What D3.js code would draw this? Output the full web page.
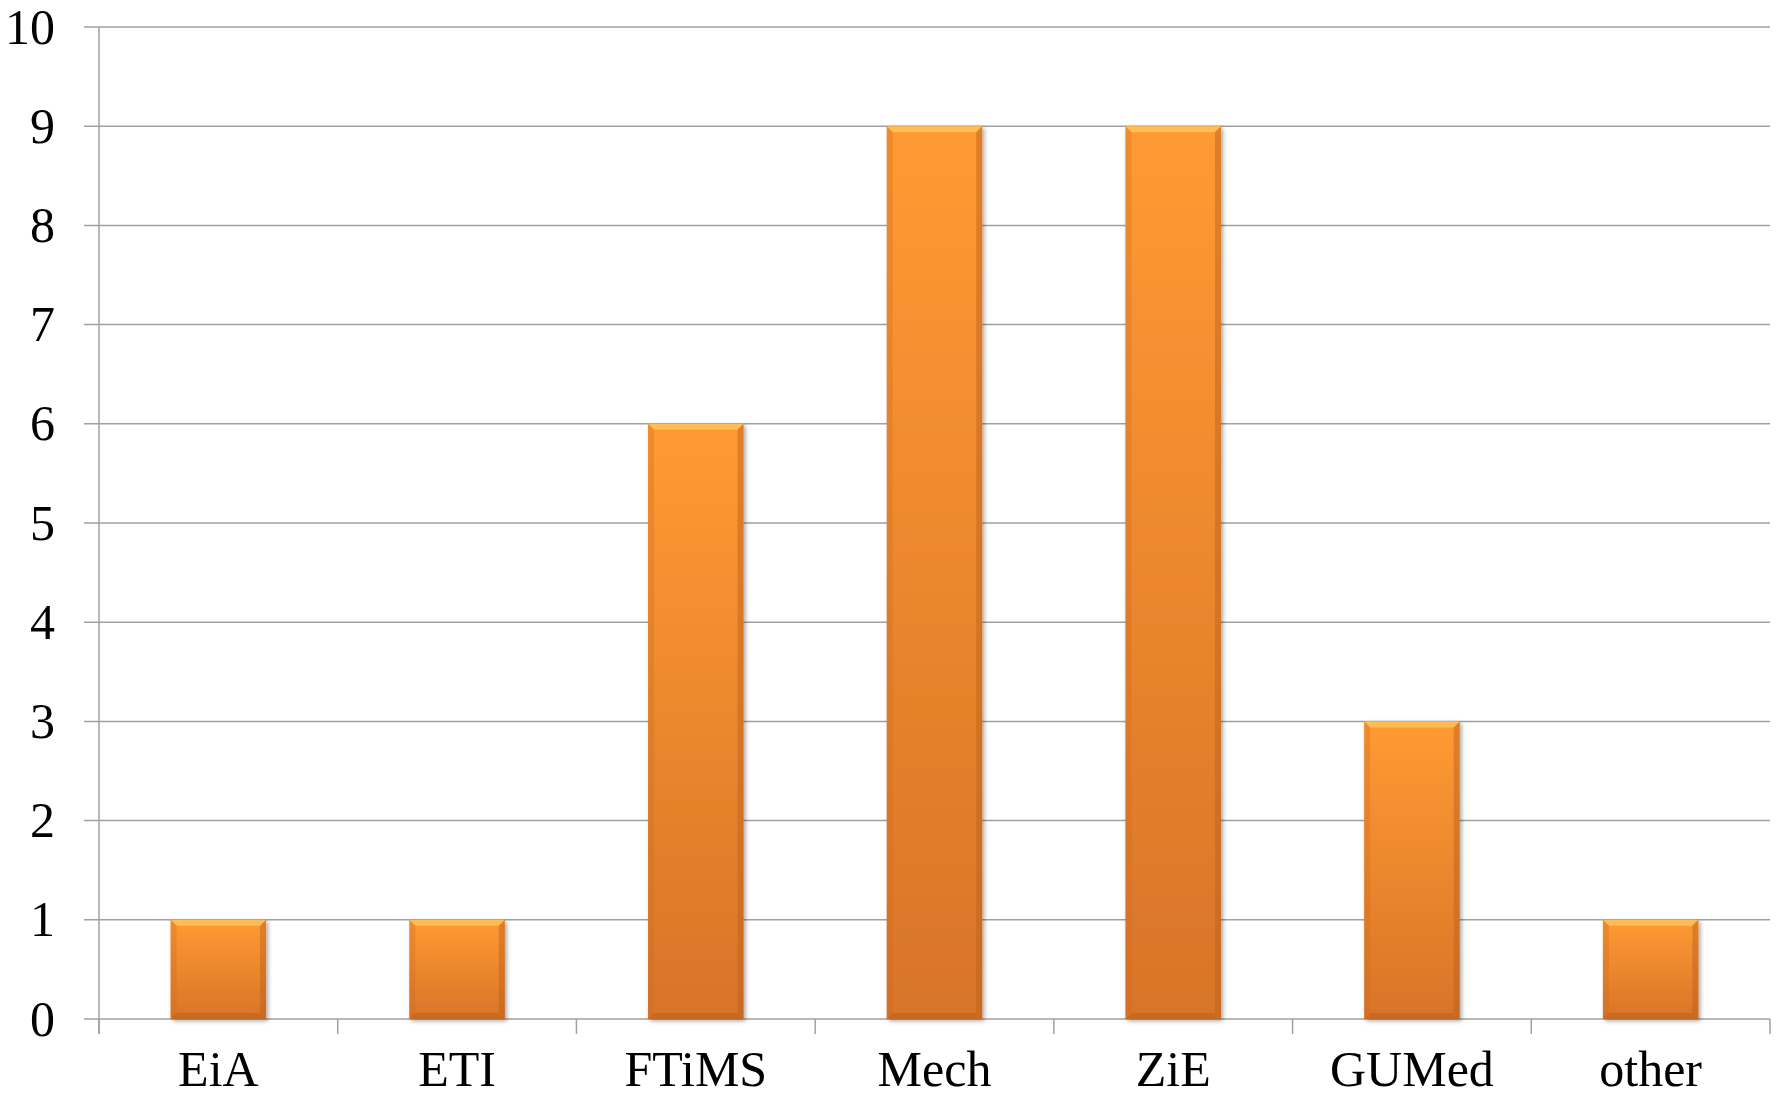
<!DOCTYPE html>
<html>
<head>
<meta charset="utf-8">
<script src="https://cdn.jsdelivr.net/npm/d3@7"></script>
<style>
	body { margin: 0; background: #fff; }
	text { font-family: "Liberation Serif", "Times New Roman", serif; fill: #000; }
</style>
</head>
<body>
<div class="container"></div>
<script>
var	WIDTH = 1779,
	HEIGHT = 1097,
	MARGIN = {top: 27, right: 9, bottom: 78, left: 99},
	TICK = 15,
	xScale,
	yScale;

var categories = ['EiA', 'ETI', 'FTiMS', 'Mech', 'ZiE', 'GUMed', 'other'];
var values = [1, 1, 6, 9, 9, 3, 1];
var yTicks = [0, 1, 2, 3, 4, 5, 6, 7, 8, 9, 10];

function translate(x, y) {
	return 'translate(' + x + ',' + y + ')';
}

var innerW = WIDTH - MARGIN.left - MARGIN.right,
	innerH = HEIGHT - MARGIN.top - MARGIN.bottom;

var svg = d3.select('.container').append('svg')
	.attr('width', WIDTH)
	.attr('height', HEIGHT);

var defs = svg.append('defs');

var grad = defs.append('linearGradient')
	.attr('id', 'barFill')
	.attr('x1', 0).attr('y1', 0).attr('x2', 0).attr('y2', 1);
grad.append('stop').attr('offset', '0%').attr('stop-color', '#ff9a33');
grad.append('stop').attr('offset', '100%').attr('stop-color', '#d87428');

var shadow = defs.append('filter')
	.attr('id', 'shadow')
	.attr('x', '-10%').attr('y', '-10%').attr('width', '130%').attr('height', '130%');
shadow.append('feDropShadow')
	.attr('dx', 2).attr('dy', 2).attr('stdDeviation', 2)
	.attr('flood-color', '#000').attr('flood-opacity', 0.35);

var g = svg.append('g')
	.attr('transform', translate(MARGIN.left, MARGIN.top));

xScale = d3.scaleBand()
	.domain(categories)
	.range([0, innerW])
	.paddingInner(0.6)
	.paddingOuter(0.3);

yScale = d3.scaleLinear()
	.domain([0, 10])
	.range([innerH, 0]);

// gridlines
g.append('g')
	.selectAll('line')
	.data(yTicks).enter()
	.append('line')
	.attr('x1', -TICK)
	.attr('x2', innerW)
	.attr('y1', function(d) { return yScale(d); })
	.attr('y2', function(d) { return yScale(d); })
	.attr('stroke', '#a0a0a0')
	.attr('stroke-width', 1.5);

// y axis
var yAxis = d3.axisLeft(yScale)
	.tickValues(yTicks)
	.tickSize(0)
	.tickPadding(44);

var yAxisGroup = g.append('g')
	.call(yAxis);
yAxisGroup.select('.domain').remove();
yAxisGroup.selectAll('text')
	.style('font-size', '50px')
	.attr('font-family', null);

g.append('line')
	.attr('x1', 0).attr('x2', 0)
	.attr('y1', 0).attr('y2', innerH + TICK)
	.attr('stroke', '#a0a0a0')
	.attr('stroke-width', 1.5);

// x axis boundary ticks
var bounds = d3.range(categories.length + 1).map(function(i) {
	return i * xScale.step();
});
g.append('g')
	.selectAll('line')
	.data(bounds).enter()
	.append('line')
	.attr('x1', function(d) { return d; })
	.attr('x2', function(d) { return d; })
	.attr('y1', innerH)
	.attr('y2', innerH + TICK)
	.attr('stroke', '#a0a0a0')
	.attr('stroke-width', 1.5);

var xAxis = d3.axisBottom(xScale)
	.tickSize(0)
	.tickPadding(31);

var xAxisGroup = g.append('g')
	.attr('transform', translate(0, innerH))
	.call(xAxis);
xAxisGroup.select('.domain').remove();
xAxisGroup.selectAll('text')
	.style('font-size', '50px')
	.attr('font-family', null);

// bars
var bars = g.append('g')
	.selectAll('g')
	.data(values).enter()
	.append('g')
	.attr('transform', function(d, i) {
		return translate(xScale(categories[i]), yScale(d));
	});

bars.append('rect')
	.attr('width', xScale.bandwidth())
	.attr('height', function(d) { return innerH - yScale(d); })
	.attr('fill', 'url(#barFill)')
	.attr('filter', 'url(#shadow)');

var B = 6;
// top bevel
bars.append('path')
	.attr('d', function() {
		var w = xScale.bandwidth();
		return 'M0,0 L' + w + ',0 L' + (w - B) + ',' + B + ' L' + B + ',' + B + 'Z';
	})
	.attr('fill', '#ffc25e')
	.attr('opacity', 0.85);

// right bevel
bars.append('path')
	.attr('d', function(d) {
		var w = xScale.bandwidth(), h = innerH - yScale(d);
		return 'M' + w + ',0 L' + w + ',' + h + ' L' + (w - B) + ',' + (h - B) + ' L' + (w - B) + ',' + B + 'Z';
	})
	.attr('fill', '#b85f1c')
	.attr('opacity', 0.45);

// left bevel
bars.append('path')
	.attr('d', function(d) {
		var h = innerH - yScale(d);
		return 'M0,0 L' + B + ',' + B + ' L' + B + ',' + (h - B) + ' L0,' + h + 'Z';
	})
	.attr('fill', '#c96a22')
	.attr('opacity', 0.3);

// bottom bevel
bars.append('path')
	.attr('d', function(d) {
		var w = xScale.bandwidth(), h = innerH - yScale(d);
		return 'M0,' + h + ' L' + B + ',' + (h - B) + ' L' + (w - B) + ',' + (h - B) + ' L' + w + ',' + h + 'Z';
	})
	.attr('fill', '#a8561a')
	.attr('opacity', 0.35);
</script>
</body>
</html>
